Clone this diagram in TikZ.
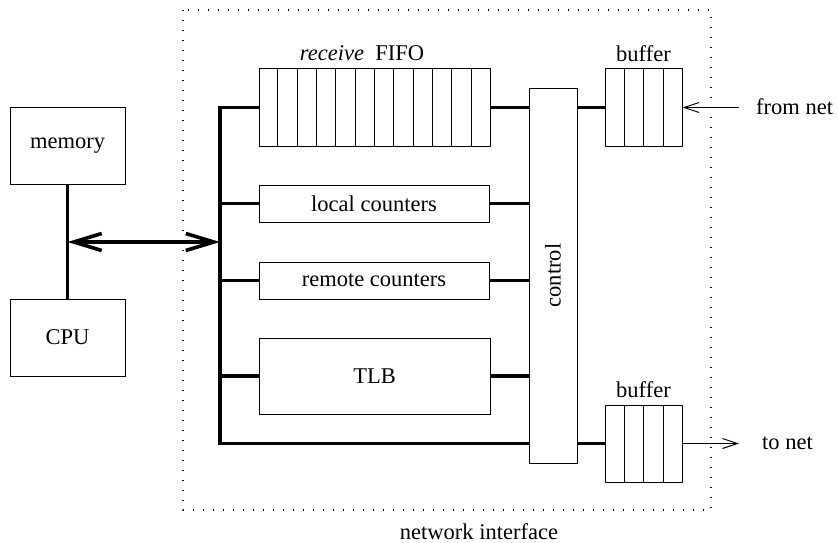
\documentclass[tikz,border=0pt]{standalone}
\usepackage{fontspec}
\setmainfont{LiberationSerif}[Extension=.ttf, UprightFont=*-Regular, ItalicFont=*-Italic, BoldFont=*-Bold, BoldItalicFont=*-BoldItalic]
\usetikzlibrary{arrows.meta,calc}

\tikzset{
  unit/.style={draw, line width=1pt, inner sep=0pt, font=\rmfamily\fontsize{22.5}{27}\selectfont},
  bus/.style={line width=3.6pt},
  bigarrow/.style={line width=3.6pt, {Straight Barb[length=28pt,width=17pt]}-{Straight Barb[length=28pt,width=17pt]}},
  netarrow/.style={line width=1pt, -{Straight Barb[length=15pt,width=10pt]}},
  cell/.style={line width=1pt},
  label/.style={font=\rmfamily\fontsize{22.5}{27}\selectfont, inner sep=0pt},
  frame/.style={line width=1.3pt, dash pattern=on 1.3pt off 8.7pt}
}

\begin{document}
\begin{tikzpicture}[x=1pt, y=-1pt]
  \useasboundingbox (0,0) rectangle (838,543);

  % network interface boundary
  \draw[frame] (183,10) rectangle (711,510);
  \node[label] (ni) at (479,532) {network interface};

  % host side
  \node[unit, minimum width=115pt, minimum height=77pt] (mem) at (67.5,145.5) {memory};
  \node[unit, minimum width=115pt, minimum height=77pt] (cpu) at (67.5,337.5) {CPU};

  % interface units
  \node[unit, minimum width=231pt, minimum height=77pt] (fifo) at (374.5,107.5) {};
  \node[unit, minimum width=230pt, minimum height=37pt] (local) at (374,203.5) {local counters};
  \node[unit, minimum width=230pt, minimum height=37pt] (remote) at (374,280.5) {remote counters};
  \node[unit, minimum width=231pt, minimum height=76pt] (tlb) at (374.5,376) {TLB};
  \node[unit, minimum width=48pt, minimum height=375pt] (ctrl) at (553,275.5) {};
  \node[label, rotate=90] (ctrllabel) at (ctrl.center) {control};
  \node[unit, minimum width=77pt, minimum height=77pt] (bufin) at (643.5,107.5) {};
  \node[unit, minimum width=77pt, minimum height=77pt] (bufout) at (643.5,443.5) {};

  % FIFO and buffer cells
  \foreach \i in {1,...,11}
    \draw[cell] ($(fifo.north west)!\i/12!(fifo.north east)$) -- ($(fifo.south west)!\i/12!(fifo.south east)$);
  \foreach \b in {bufin,bufout}
    \foreach \i in {1,2,3}
      \draw[cell] ($(\b.north west)!\i/4!(\b.north east)$) -- ($(\b.south west)!\i/4!(\b.south east)$);

  % titles
  \node[label] (fifolabel) at (362,53) {\textit{receive}\enspace FIFO};
  \node[label] (bufinlabel) at (643.5,54) {buffer};
  \node[label] (bufoutlabel) at (643.5,390) {buffer};

  % internal bus
  \coordinate (bustop) at (220,107.5);
  \coordinate (busbot) at (220,443.5);
  \draw[bus] (fifo.west) -- (bustop) -- (busbot) -- (busbot -| ctrl.west);
  \foreach \n in {local,remote,tlb}
    \draw[bus] (\n.west) -- (\n.west -| bustop);
  \foreach \n in {fifo,local,remote,tlb}
    \draw[bus] (\n.east) -- (\n.east -| ctrl.west);
  \draw[bus] (ctrl.east |- bufin.west) -- (bufin.west);
  \draw[bus] (ctrl.east |- bufout.west) -- (bufout.west);

  % host bus
  \draw[line width=3pt] (mem.south) -- (cpu.north);
  \coordinate (junc) at (67.5,242);
  \draw[bigarrow] (junc) -- (junc -| bustop);

  % network links
  \coordinate (fromnet) at (739,107.5);
  \coordinate (tonet) at (739,443.5);
  \draw[netarrow] (fromnet) -- (bufin.east);
  \draw[netarrow] (bufout.east) -- (tonet);
  \node[label, anchor=west] (fromlabel) at (756,107) {from net};
  \node[label, anchor=west] (tolabel) at (762,443) {to net};
\end{tikzpicture}
\end{document}
